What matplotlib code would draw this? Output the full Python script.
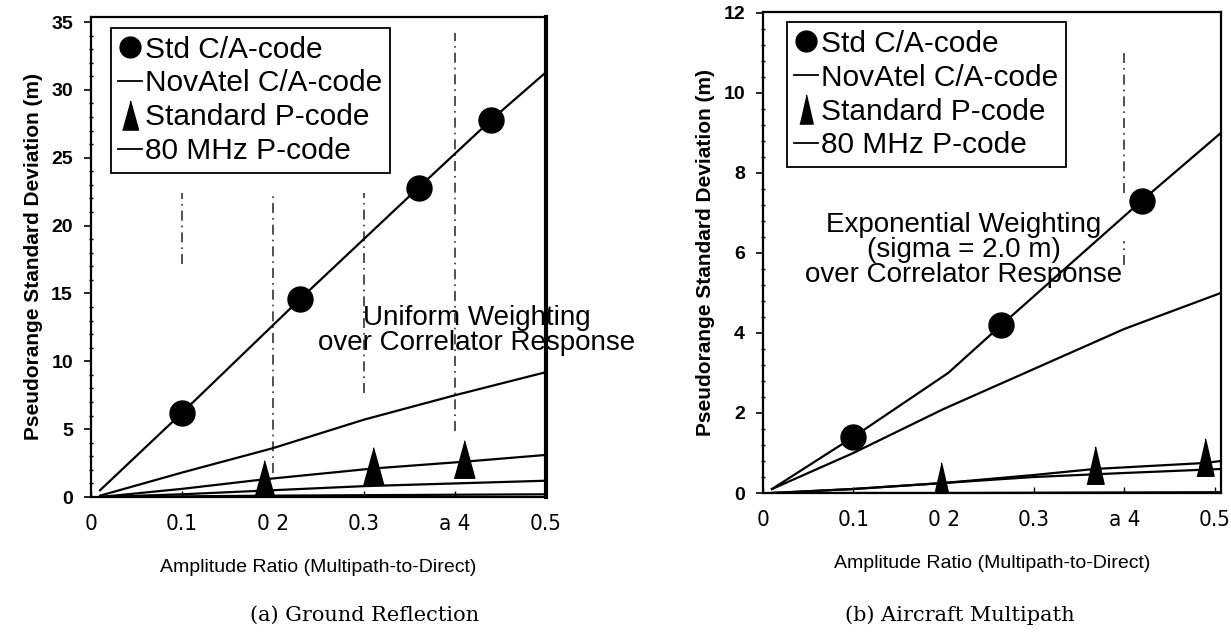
import matplotlib
matplotlib.use("Agg")
import matplotlib.pyplot as plt
from matplotlib.ticker import MultipleLocator

# ---- data ----
# (a) ground reflection, uniform weighting
a_std_ca_x = [0.01, 0.1, 0.23, 0.36, 0.44, 0.5]
a_std_ca_y = [0.5, 6.2, 14.6, 22.8, 27.8, 31.3]
a_std_ca_mx = [0.1, 0.23, 0.36, 0.44]
a_std_ca_my = [6.2, 14.6, 22.8, 27.8]
a_novatel_x = [0.01, 0.1, 0.2, 0.3, 0.4, 0.5]
a_novatel_y = [0.1, 1.8, 3.6, 5.7, 7.5, 9.2]
a_pcode_x = [0.01, 0.1, 0.19, 0.31, 0.41, 0.5]
a_pcode_y = [0.0, 0.6, 1.3, 2.1, 2.6, 3.1]
a_pcode_mx = [0.19, 0.31, 0.41]
a_pcode_my = [1.3, 2.3, 2.8]
a_80mhz_x = [0.01, 0.1, 0.2, 0.3, 0.4, 0.5]
a_80mhz_y = [0.0, 0.2, 0.5, 0.8, 1.0, 1.2]
a_base_x = [0.01, 0.2, 0.5]
a_base_y = [0.0, 0.1, 0.2]

# (b) aircraft multipath, exponential weighting
b_std_ca_x = [0.01, 0.1, 0.205, 0.264, 0.419, 0.507]
b_std_ca_y = [0.1, 1.4, 3.0, 4.2, 7.3, 9.0]
b_std_ca_mx = [0.1, 0.264, 0.419]
b_std_ca_my = [1.4, 4.2, 7.3]
b_novatel_x = [0.01, 0.1, 0.2, 0.3, 0.4, 0.507]
b_novatel_y = [0.1, 1.0, 2.1, 3.1, 4.1, 5.0]
b_pcode_x = [0.01, 0.1, 0.2, 0.3, 0.367, 0.489, 0.507]
b_pcode_y = [0.0, 0.1, 0.25, 0.45, 0.6, 0.75, 0.8]
b_pcode_mx = [0.197, 0.367, 0.489]
b_pcode_my = [0.3, 0.7, 0.9]
b_80mhz_x = [0.01, 0.1, 0.2, 0.3, 0.4, 0.507]
b_80mhz_y = [0.0, 0.1, 0.25, 0.4, 0.5, 0.6]
b_base_x = [0.01, 0.2, 0.507]
b_base_y = [0.0, 0.0, 0.02]

x_tick_vals = [0, 0.1, 0.2, 0.3, 0.4, 0.5]
x_tick_labels = ["0", "0.1", "0 2", "0.3", "a 4", "0.5"]
legend_labels = ["Std C/A-code", "NovAtel C/A-code", "Standard P-code", "80 MHz P-code"]

# broken dash-dot vertical marks left over from the scan (x, ymin, ymax)
a_scan_marks = [(0.1, 17.2, 22.4), (0.2, 1.8, 22.4), (0.3, 7.7, 22.4), (0.4, 4.9, 34.2)]
b_scan_marks = [(0.40, 7.5, 11.1), (0.40, 5.7, 6.3)]

LW = 1.6
SANS = ["Liberation Sans", "DejaVu Sans"]
plt.rcParams["font.family"] = SANS

fig = plt.figure(figsize=(12.31, 6.35), dpi=100)


def tri(half_w):
    return [(-half_w, -1.0), (half_w, -1.0), (0.0, 1.0)]


def draw_panel(ax, d, xlim, ylim, ymajor, yminor, tri_w, marks, leg_xy):
    for xm, y0, y1 in marks:
        ax.vlines(xm, y0, y1, colors="0.2", linestyles=(0, (6, 3, 1, 3)), linewidth=1.2, zorder=1)
    ax.plot(d["std_x"], d["std_y"], color="black", lw=LW, zorder=3)
    ax.plot(d["std_mx"], d["std_my"], "o", color="black", ms=18, zorder=4)
    ax.plot(d["nov_x"], d["nov_y"], color="black", lw=LW, zorder=3)
    ax.plot(d["p_x"], d["p_y"], color="black", lw=LW, zorder=3)
    ax.plot(d["p_mx"], d["p_my"], linestyle="none", marker=tri(tri_w), color="black", ms=27, zorder=4)
    ax.plot(d["m_x"], d["m_y"], color="black", lw=LW, zorder=3)
    ax.plot(d["b_x"], d["b_y"], color="black", lw=LW, zorder=3)

    ax.set_xlim(*xlim)
    ax.set_ylim(*ylim)
    ax.set_xticks(x_tick_vals)
    ax.set_xticklabels(x_tick_labels, family="DejaVu Sans", fontstretch="condensed", fontsize=16)
    ax.yaxis.set_major_locator(MultipleLocator(ymajor))
    ax.yaxis.set_minor_locator(MultipleLocator(yminor))
    for lab in ax.get_yticklabels():
        lab.set_fontweight("bold")
        lab.set_fontsize(14)
    ax.tick_params(axis="y", which="major", direction="out", length=5, width=1.2, pad=8)
    ax.tick_params(axis="y", which="minor", direction="inout", length=3, width=1.0)
    ax.tick_params(axis="x", which="major", direction="in", length=4, width=1.0, pad=12)
    for sp in ax.spines.values():
        sp.set_linewidth(1.6)
    ax.set_ylabel("Pseudorange Standard Deviation (m)", fontsize=15, fontweight="bold", labelpad=6)
    ax.set_xlabel("Amplitude Ratio (Multipath-to-Direct)", fontsize=14, labelpad=18)

    handles = [
        plt.Line2D([], [], marker="o", color="black", ms=15, linestyle="none"),
        plt.Line2D([], [], color="black", lw=1.3),
        plt.Line2D([], [], marker=tri(tri_w), color="black", ms=21, linestyle="none"),
        plt.Line2D([], [], color="black", lw=1.3),
    ]
    leg = ax.legend(handles, legend_labels, loc="upper left", bbox_to_anchor=leg_xy,
                    fontsize=21.5, handlelength=0.8, handletextpad=0.1, labelspacing=0.2,
                    borderpad=0.25, borderaxespad=0.0, fancybox=False, framealpha=1.0,
                    edgecolor="black")
    leg.get_frame().set_linewidth(1.3)


ax1 = fig.add_axes([91 / 1231, 1 - 497 / 635, 455 / 1231, 480 / 635])
draw_panel(ax1, dict(std_x=a_std_ca_x, std_y=a_std_ca_y, std_mx=a_std_ca_mx, std_my=a_std_ca_my,
                     nov_x=a_novatel_x, nov_y=a_novatel_y, p_x=a_pcode_x, p_y=a_pcode_y,
                     p_mx=a_pcode_mx, p_my=a_pcode_my, m_x=a_80mhz_x, m_y=a_80mhz_y,
                     b_x=a_base_x, b_y=a_base_y),
           (0, 0.5), (0, 35.37), 5, 1, 0.55, a_scan_marks, (0.044, 0.977))
ax1.spines["right"].set_linewidth(3.0)
ax1.text(0.424, 12.3, "Uniform Weighting\nover Correlator Response", ha="center", va="center",
         fontsize=20, linespacing=0.95, zorder=2, clip_on=False)

ax2 = fig.add_axes([763 / 1231, 1 - 493 / 635, 458 / 1231, 481 / 635])
draw_panel(ax2, dict(std_x=b_std_ca_x, std_y=b_std_ca_y, std_mx=b_std_ca_mx, std_my=b_std_ca_my,
                     nov_x=b_novatel_x, nov_y=b_novatel_y, p_x=b_pcode_x, p_y=b_pcode_y,
                     p_mx=b_pcode_mx, p_my=b_pcode_my, m_x=b_80mhz_x, m_y=b_80mhz_y,
                     b_x=b_base_x, b_y=b_base_y),
           (0, 0.507), (0, 12.02), 2, 0.4, 0.46, b_scan_marks, (0.052, 0.979))
ax2.text(0.2225, 6.08, "Exponential Weighting\n(sigma = 2.0 m)\nover Correlator Response",
         ha="center", va="center", fontsize=20, linespacing=0.95, zorder=2)

fig.text(365 / 1231, 1 - 615 / 635, "(a) Ground Reflection", ha="center", va="center",
         fontsize=15, family="DejaVu Serif")
fig.text(960 / 1231, 1 - 615 / 635, "(b) Aircraft Multipath", ha="center", va="center",
         fontsize=15, family="DejaVu Serif")

fig.savefig("out.png", dpi=100)
